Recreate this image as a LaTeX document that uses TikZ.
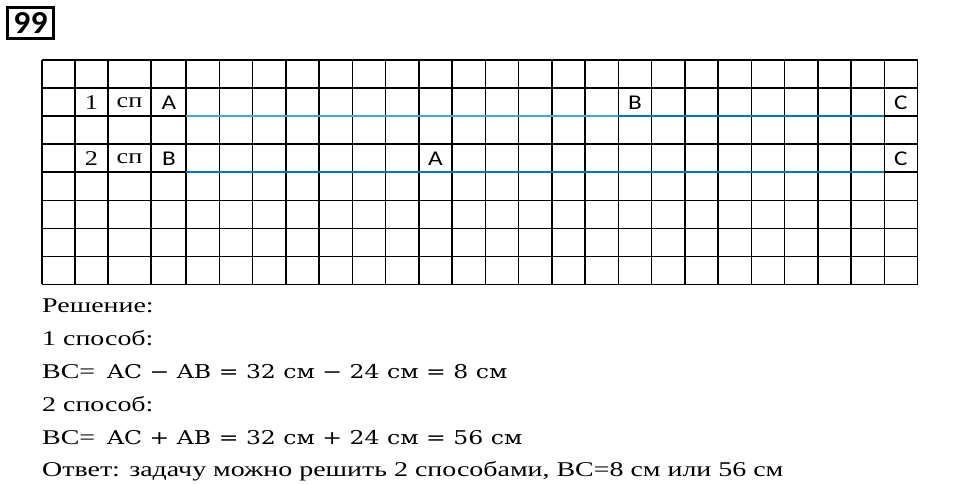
\documentclass[tikz,border=0pt]{standalone}
\usepackage{fontspec}
\setmainfont{Liberation Serif}
\newfontfamily\calfont{Carlito}
\newfontfamily\cambfont{DejaVu Serif}
\usetikzlibrary{positioning,calc}
\definecolor{lineblue}{RGB}{70,165,225}
\definecolor{deepblue}{RGB}{0,118,200}
\newcommand{\wide}[2][1.33]{\scalebox{#1}[1]{#2}}

\begin{document}
\begin{tikzpicture}[x=1pt, y=-1pt]
	\tikzstyle{numbox} = [rectangle, draw=black, line width=2.2pt, minimum width=46pt, minimum height=31pt, inner sep=0pt, font=\calfont\bfseries\fontsize{32}{32}\selectfont]
	\tikzstyle{gridline} = [line width=1.5pt, black]
	\tikzstyle{serifcell} = [inner sep=0pt, font=\fontsize{21}{21}\selectfont]
	\tikzstyle{letter} = [inner sep=0pt, font=\calfont\fontsize{21}{21}\selectfont]
	\tikzstyle{segment} = [line width=2pt]
	\tikzstyle{textline} = [anchor=base west, inner sep=0pt, font=\fontsize{21}{21}\selectfont]
	\useasboundingbox (0,0) rectangle (960,484);

	\node (num) [numbox] at (30.5,23) {\wide[1.05]{99}};

	% grid
	\foreach \x in {42,75,108,151}
		\draw [gridline] (\x,60) -- (\x,284.4);
	\foreach \k in {0,...,22}
		\draw [gridline] ({186+33.25*\k},60) -- ({186+33.25*\k},284.4);
	\foreach \j in {0,...,8}
		\draw [gridline] (42,{60+28.05*\j}) -- (917.5,{60+28.05*\j});

	% first way
	\node (one) [serifcell] at (91.5,103) {\wide[1.25]{1}};
	\node (sp1) [serifcell] at (129.5,103) {\wide[1.25]{сп}};
	\node (A1) [letter] at (169,102.5) {\wide[1.2]{A}};
	\node (B1) [letter] at (634.9,102.5) {\wide[1.2]{B}};
	\node (C1) [letter] at (900.9,102.5) {\wide[1.2]{C}};
	\coordinate (a1) at (186,116.1);
	\coordinate (b1) at (618.25,116.1);
	\coordinate (c1) at (884.25,116.1);
	\draw [segment, lineblue] (a1) -- (b1);
	\draw [segment, deepblue] (b1) -- (c1);

	% second way
	\node (two) [serifcell] at (91.5,159) {\wide[1.25]{2}};
	\node (sp2) [serifcell] at (129.5,159) {\wide[1.25]{сп}};
	\node (B2) [letter] at (169,158.5) {\wide[1.2]{B}};
	\node (A2) [letter] at (435.4,158.5) {\wide[1.2]{A}};
	\node (C2) [letter] at (900.9,158.5) {\wide[1.2]{C}};
	\coordinate (b2) at (186,172.2);
	\coordinate (c2) at (884.25,172.2);
	\draw [segment, deepblue] (b2) -- (c2);

	% solution
	\node (sol) [textline] at (42,312) {\wide{Решение:}};
	\node (way1) [textline] at (42,345) {\wide{1 способ:}};
	\node (calc1) [textline] at (42,378) {\wide{BC=}\hspace{12pt}\wide[1.24]{\cambfont\fontsize{19}{20}\selectfont AC − AB = 32 см − 24 см = 8 см}};
	\node (way2) [textline] at (42,411) {\wide{2 способ:}};
	\node (calc2) [textline] at (42,444) {\wide{BC=}\hspace{12pt}\wide[1.24]{\cambfont\fontsize{19}{20}\selectfont AC + AB = 32 см + 24 см = 56 см}};
	\node (ans) [textline] at (42,476) {\wide{Ответ: задачу можно решить 2 способами, BC=8 см или 56 см}};
\end{tikzpicture}
\end{document}
